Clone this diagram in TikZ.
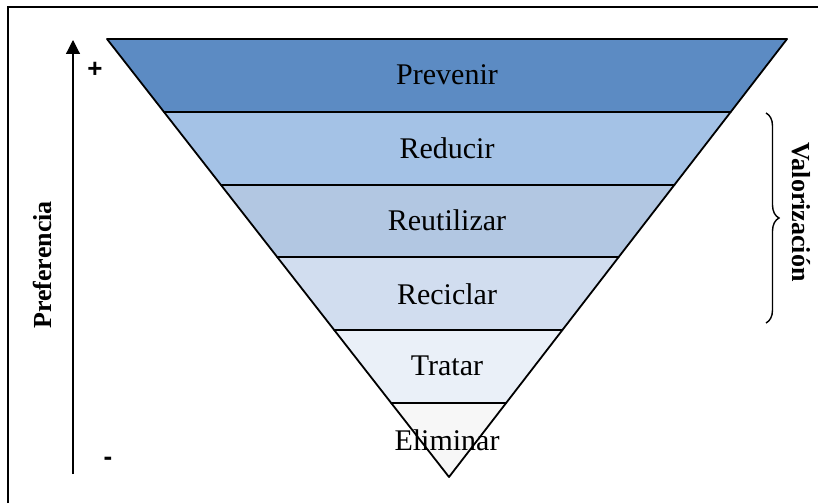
\documentclass[tikz,border=0pt]{standalone}
\usepackage{fontspec}
\setmainfont{Liberation Serif}
\newfontfamily\sansf{Liberation Sans}
\usetikzlibrary{decorations.pathreplacing,arrows.meta}
\definecolor{cPrev}{RGB}{92,139,195}
\definecolor{cRed}{RGB}{164,194,230}
\definecolor{cReu}{RGB}{178,199,226}
\definecolor{cRec}{RGB}{209,221,239}
\definecolor{cTra}{RGB}{234,240,248}
\definecolor{cEli}{RGB}{247,247,247}
\tikzset{
  band/.style={draw=black,line width=1.8pt,line join=round},
  lbl/.style={font=\fontsize{30}{32}\selectfont,inner sep=0pt},
  side/.style={font=\bfseries\fontsize{26}{28}\selectfont,inner sep=0pt},
  sign/.style={font=\sansf\bfseries\fontsize{26}{28}\selectfont,inner sep=0pt},
  frame/.style={draw=black,line width=1.5pt}
}
\begin{document}
\begin{tikzpicture}[x=1pt,y=-1pt]
\useasboundingbox (0,0) rectangle (818,503);
\fill[white] (0,0) rectangle (818,503);
% frame (top and left visible)
\draw[frame] (8,503) -- (8,7) -- (818,7);
% bands
\filldraw[band,fill=cPrev] (107,39) -- (787,39) -- (730.7,112) -- (164.0,112) -- cycle;
\filldraw[band,fill=cRed] (164.0,112) -- (730.7,112) -- (674.3,185) -- (221.0,185) -- cycle;
\filldraw[band,fill=cReu] (221.0,185) -- (674.3,185) -- (618.7,257) -- (277.2,257) -- cycle;
\filldraw[band,fill=cRec] (277.2,257) -- (618.7,257) -- (562.4,330) -- (334.2,330) -- cycle;
\filldraw[band,fill=cTra] (334.2,330) -- (562.4,330) -- (506.1,403) -- (391.2,403) -- cycle;
\filldraw[band,fill=cEli] (391.2,403) -- (506.1,403) -- (449,477) -- cycle;
% labels
\node[lbl] (prev) at (447,75) {Prevenir};
\node[lbl] (red) at (447,148) {Reducir};
\node[lbl] (reu) at (447,220) {Reutilizar};
\node[lbl] (rec) at (447,294) {Reciclar};
\node[lbl] (tra) at (447,366) {Tratar};
\node[lbl] (eli) at (447,440) {Eliminar};
% preference arrow
\coordinate (abot) at (73,474);
\coordinate (atop) at (73,40);
\draw[line width=1.2pt,-{Triangle[length=14pt,width=14pt]}] (abot) -- (atop);
\node[sign] (plus) at (95,70) {+};
\node[sign] (minus) at (108,461) {-};
\node[side,rotate=90] (pref) at (42,265) {Preferencia};
% brace
\coordinate (btop) at (766,113);
\coordinate (bbot) at (766,323);
\draw[line width=1.4pt,decorate,decoration={brace,amplitude=13pt}] (btop) -- (bbot);
\node[side,rotate=-90] (val) at (801,212) {Valorización};
\end{tikzpicture}
\end{document}
